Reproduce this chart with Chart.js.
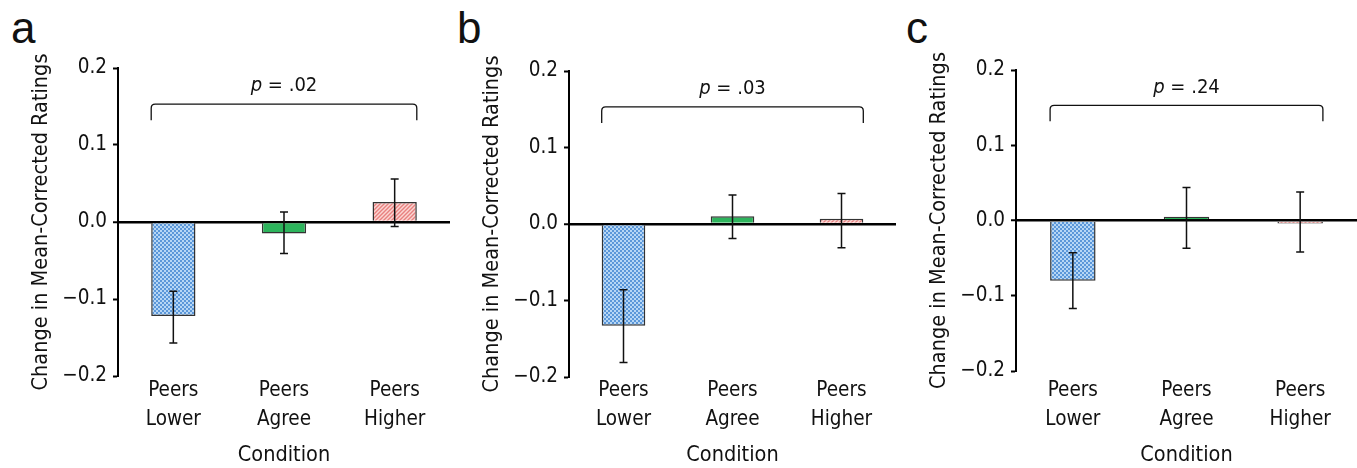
<!DOCTYPE html>
<html>
<head>
<meta charset="utf-8">
<script src="https://cdn.jsdelivr.net/npm/chart.js@4"></script>
<style>
  body { margin: 0; background: #fff; width: 1357px; height: 468px; position: relative; overflow: hidden; }
  .panel { position: absolute; top: 0; height: 468px; }
  .letter { position: absolute; top: 6px; font: 44px/1 'Liberation Sans', Arial, sans-serif; color: #111; }
</style>
</head>
<body>
<div class="letter" style="left:11px">a</div>
<div class="letter" style="left:457px">b</div>
<div class="letter" style="left:906px">c</div>
<div class="panel" style="left:0"><canvas id="chartA" width="450" height="468"></canvas></div>
<div class="panel" style="left:450px"><canvas id="chartB" width="450" height="468"></canvas></div>
<div class="panel" style="left:900px"><canvas id="chartC" width="457" height="468"></canvas></div>
<script>
// data
const conditions = [['Peers', 'Lower'], ['Peers', 'Agree'], ['Peers', 'Higher']];

const meansA = [-0.122, -0.015, 0.026];
const lowA   = [-0.157, -0.041, -0.006];
const highA  = [-0.090, 0.013, 0.056];

const meansB = [-0.133, 0.010, 0.007];
const lowB   = [-0.181, -0.019, -0.031];
const highB  = [-0.086, 0.038, 0.040];

const meansC = [-0.080, 0.005, -0.004];
const lowC   = [-0.117, -0.037, -0.042];
const highC  = [-0.043, 0.044, 0.038];

const pValues = ['.02', '.03', '.24'];
const bracketTop = 0.153;
const bracketLeg = 0.132;
const pLabelAt = 0.17;

const FONT = "'DejaVu Sans Condensed', 'DejaVu Sans', sans-serif";

function bluePattern() {
  const c = document.createElement('canvas');
  c.width = 4; c.height = 4;
  const g = c.getContext('2d');
  g.fillStyle = '#b6d6f5';
  g.fillRect(0, 0, 4, 4);
  g.fillStyle = '#5b97d9';
  g.fillRect(0, 0, 2, 2);
  g.fillRect(2, 2, 2, 2);
  return g.createPattern(c, 'repeat');
}

function redPattern() {
  const c = document.createElement('canvas');
  c.width = 4; c.height = 4;
  const g = c.getContext('2d');
  g.fillStyle = '#fbd6d3';
  g.fillRect(0, 0, 4, 4);
  g.strokeStyle = '#e8807f';
  g.lineWidth = 1.4;
  g.beginPath();
  g.moveTo(-1, 5); g.lineTo(5, -1);
  g.moveTo(-1, 1); g.lineTo(1, -1);
  g.moveTo(3, 5); g.lineTo(5, 3);
  g.stroke();
  return g.createPattern(c, 'repeat');
}

// error bars, bracket and p label, placed through the chart's own scales
const extrasPlugin = {
  id: 'extras',
  afterDatasetsDraw(chart, args, opts) {
    const { ctx, scales: { y } } = chart;
    const bars = chart.getDatasetMeta(0).data;
    ctx.save();

    ctx.strokeStyle = '#111';
    ctx.lineWidth = 1.5;
    bars.forEach((bar, i) => {
      const yLo = y.getPixelForValue(opts.low[i]);
      const yHi = y.getPixelForValue(opts.high[i]);
      ctx.beginPath();
      ctx.moveTo(bar.x, yLo); ctx.lineTo(bar.x, yHi);
      ctx.moveTo(bar.x - 4, yLo); ctx.lineTo(bar.x + 4, yLo);
      ctx.moveTo(bar.x - 4, yHi); ctx.lineTo(bar.x + 4, yHi);
      ctx.stroke();
    });

    const first = bars[0], last = bars[bars.length - 1];
    const x1 = first.x - first.width / 2;
    const x2 = last.x + last.width / 2;
    const yt = y.getPixelForValue(bracketTop);
    const yl = y.getPixelForValue(bracketLeg);
    const r = 4;
    ctx.lineWidth = 1.3;
    ctx.strokeStyle = '#111';
    ctx.beginPath();
    ctx.moveTo(x1, yl);
    ctx.lineTo(x1, yt + r);
    ctx.quadraticCurveTo(x1, yt, x1 + r, yt);
    ctx.lineTo(x2 - r, yt);
    ctx.quadraticCurveTo(x2, yt, x2, yt + r);
    ctx.lineTo(x2, yl);
    ctx.stroke();

    const py = y.getPixelForValue(pLabelAt);
    const italic = 'italic 20px ' + FONT;
    const upright = '20px ' + FONT;
    const rest = ' = ' + opts.p;
    ctx.font = italic;
    const w1 = ctx.measureText('p').width;
    ctx.font = upright;
    const w2 = ctx.measureText(rest).width;
    const cx = bars[1].x;
    const sx = cx - (w1 + w2) / 2;
    ctx.fillStyle = '#111';
    ctx.textBaseline = 'alphabetic';
    ctx.textAlign = 'left';
    ctx.font = italic;
    ctx.fillText('p', sx, py);
    ctx.font = upright;
    ctx.fillText(rest, sx + w1, py);

    ctx.restore();
  }
};

function tickLabel(v) {
  if (Math.abs(v) < 1e-9) return '0.0';
  return (v < 0 ? '\u2212' : '') + Math.abs(v).toFixed(1);
}

function makeChart(id, means, low, high, p, lay) {
  const ctx = document.getElementById(id).getContext('2d');
  return new Chart(ctx, {
    type: 'bar',
    data: {
      labels: conditions,
      datasets: [{
        data: means,
        backgroundColor: [bluePattern(), '#2db45c', redPattern()],
        borderColor: '#333',
        borderWidth: 1.5,
        barPercentage: 0.4,
        categoryPercentage: 1
      }]
    },
    plugins: [extrasPlugin],
    options: {
      responsive: false,
      animation: false,
      layout: { padding: { left: 0, top: lay.top, right: lay.right, bottom: 0 } },
      plugins: {
        legend: { display: false },
        tooltip: { enabled: false },
        extras: { low: low, high: high, p: p }
      },
      scales: {
        x: {
          grid: { display: false },
          border: { display: false },
          ticks: { color: '#111', padding: lay.tickPad, font: { family: FONT, size: 20.5, lineHeight: 1.42 } },
          title: { display: true, text: 'Condition', color: '#111', padding: { top: 0, bottom: 0 }, font: { family: FONT, size: 21.5 } },
          afterFit: s => { s.height = lay.axisH; }
        },
        y: {
          min: -0.2,
          max: 0.2,
          z: 1,
          border: { display: true, color: '#000', width: 2 },
          grid: {
            color: c => Math.abs(c.tick.value) < 1e-9 ? '#000' : 'rgba(0,0,0,0)',
            lineWidth: c => Math.abs(c.tick.value) < 1e-9 ? 2.5 : 1,
            tickColor: '#000',
            tickWidth: 2,
            tickLength: 5
          },
          ticks: { stepSize: 0.1, color: '#111', padding: 6, callback: v => tickLabel(v), font: { family: FONT, size: 20.5 } },
          title: {
            display: true,
            text: 'Change in Mean-Corrected Ratings',
            color: '#111',
            padding: { top: lay.axisW - 89.5, bottom: 0 },
            font: { family: FONT, size: 21.5 }
          },
          afterFit: s => { s.width = lay.axisW; }
        }
      }
    }
  });
}

makeChart('chartA', meansA, lowA, highA, pValues[0], { axisW: 118, top: 68, axisH: 92, right: 0, tickPad: -8 });
makeChart('chartB', meansB, lowB, highB, pValues[1], { axisW: 119, top: 71, axisH: 91, right: 4, tickPad: -9 });
makeChart('chartC', meansC, lowC, highC, pValues[2], { axisW: 116, top: 70, axisH: 97, right: 0, tickPad: -3 });
</script>
</body>
</html>
